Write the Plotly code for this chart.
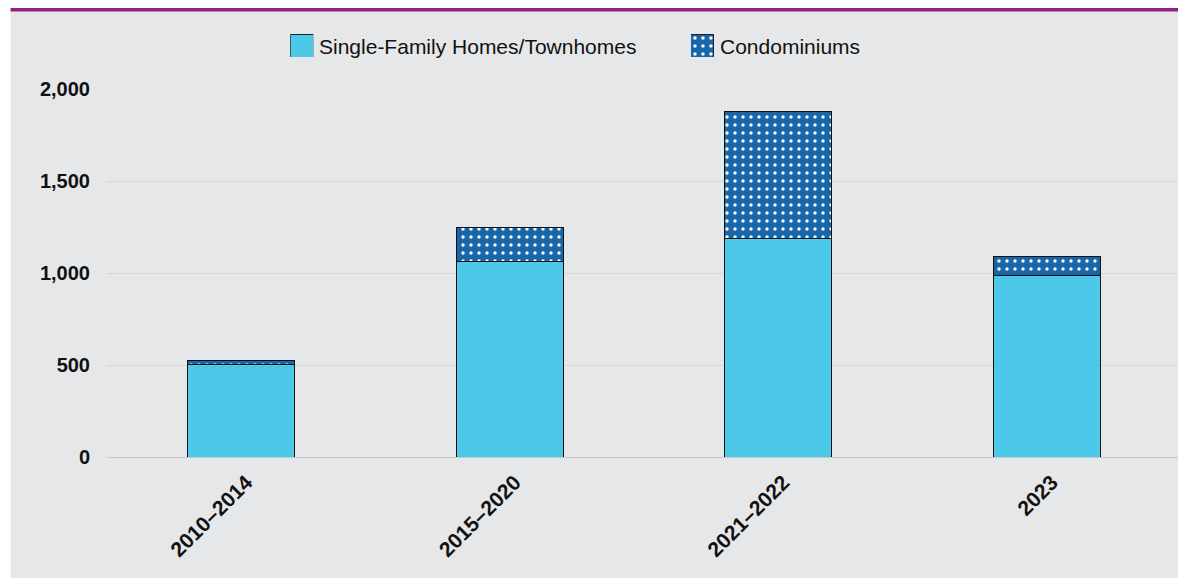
import plotly.graph_objects as go

categories = ["2010–2014", "2015–2020", "2021–2022", "2023"]
single_family = [505, 1065, 1185, 984]
condominiums = [17, 180, 695, 103]
legend_labels = ["Single-Family Homes/Townhomes", "Condominiums"]
y_ticks = [0, 500, 1000, 1500, 2000]

SF_COLOR = "#4cc8e9"
CONDO_COLOR = "#1666a8"
BG = "#e6e7e9"
FONT = "Arial, Liberation Sans, sans-serif"

W, H = 1186, 578
OFF = 8  # page body margin offset
# screen-space plot edges
S_LEFT, S_RIGHT, S_BOTTOM, S_TOP = 106.5, 1181.5, 457, 11
L = S_LEFT - OFF
R = W - (S_RIGHT - OFF)
T = S_TOP - OFF
B = H - (S_BOTTOM - OFF)
PW, PH = W - L - R, H - T - B


def sx(p):
    """screen px -> paper x"""
    return (p - OFF - L) / PW


def sy(p):
    """screen px -> paper y"""
    return (S_BOTTOM - p) / PH


condo_pattern = dict(shape=".", fgcolor="white", bgcolor=CONDO_COLOR,
                     size=8, solidity=0.14, fillmode="replace")

fig = go.Figure()
fig.add_trace(go.Bar(x=categories, y=single_family, name=legend_labels[0],
                     marker=dict(color=SF_COLOR, line=dict(color="#111", width=1)),
                     width=0.4, showlegend=False, hoverinfo="x+y"))
fig.add_trace(go.Bar(x=categories, y=condominiums, name=legend_labels[1],
                     marker=dict(color=CONDO_COLOR, pattern=condo_pattern,
                                 line=dict(color="#111", width=1)),
                     width=0.4, showlegend=False, hoverinfo="x+y"))

# legend swatches (drawn as tiny bar charts so the pattern matches)
fig.add_trace(go.Bar(x=[0], y=[1], width=1, xaxis="x2", yaxis="y2", showlegend=False,
                     marker=dict(color=SF_COLOR, line=dict(color="#222", width=1)),
                     hoverinfo="skip"))
fig.add_trace(go.Bar(x=[0], y=[1], width=1, xaxis="x3", yaxis="y3", showlegend=False,
                     marker=dict(color=CONDO_COLOR, pattern=condo_pattern,
                                 line=dict(color="#222", width=1)),
                     hoverinfo="skip"))

hidden = dict(visible=False, fixedrange=True)
sw_y = [sy(57), sy(34)]

fig.update_layout(
    width=W, height=H,
    margin=dict(l=L, r=R, t=T, b=B, autoexpand=False),
    paper_bgcolor=BG, plot_bgcolor=BG,
    barmode="stack",
    font=dict(family=FONT, color="#111"),
    showlegend=False,
    xaxis=dict(domain=[0, 1], showgrid=False, showline=False, ticks="",
               tickangle=-45, ticklabelstandoff=8, ticklabelshift=5,
               tickfont=dict(size=21, family=FONT, weight="bold"),
               fixedrange=True),
    yaxis=dict(domain=[0, sy(89)], range=[0, 2000], tickvals=y_ticks,
               tickformat=",", showgrid=True, gridcolor="#d6d7d9", gridwidth=1,
               zeroline=True, zerolinecolor="#c6c7c9", zerolinewidth=1,
               showline=False, ticks="", ticklabelstandoff=16,
               tickfont=dict(size=20, family=FONT, weight="bold"), fixedrange=True),
    xaxis2=dict(domain=[sx(290), sx(313)], range=[-0.5, 0.5], anchor="y2", **hidden),
    yaxis2=dict(domain=sw_y, range=[0, 1], anchor="x2", **hidden),
    xaxis3=dict(domain=[sx(691), sx(714)], range=[-0.5, 0.5], anchor="y3", **hidden),
    yaxis3=dict(domain=sw_y, range=[0, 1], anchor="x3", **hidden),
)

fig.add_annotation(text=legend_labels[0], xref="paper", yref="paper",
                   x=sx(317), y=sy(46), xanchor="left", yanchor="middle",
                   showarrow=False, font=dict(size=21, family=FONT, color="#111"))
fig.add_annotation(text=legend_labels[1], xref="paper", yref="paper",
                   x=sx(718), y=sy(46), xanchor="left", yanchor="middle",
                   showarrow=False, font=dict(size=21, family=FONT, color="#111"))

# white frame strip and purple rule
fig.add_shape(type="rect", xref="paper", yref="paper", layer="above",
              x0=sx(0), x1=sx(10), y0=sy(H + 10), y1=sy(0),
              fillcolor="white", line=dict(width=0))
fig.add_shape(type="rect", xref="paper", yref="paper", layer="above",
              x0=sx(10), x1=sx(W + 10), y0=sy(11.5), y1=sy(8),
              fillcolor="#8e237f", line=dict(width=0))

fig.write_html("out.html")
